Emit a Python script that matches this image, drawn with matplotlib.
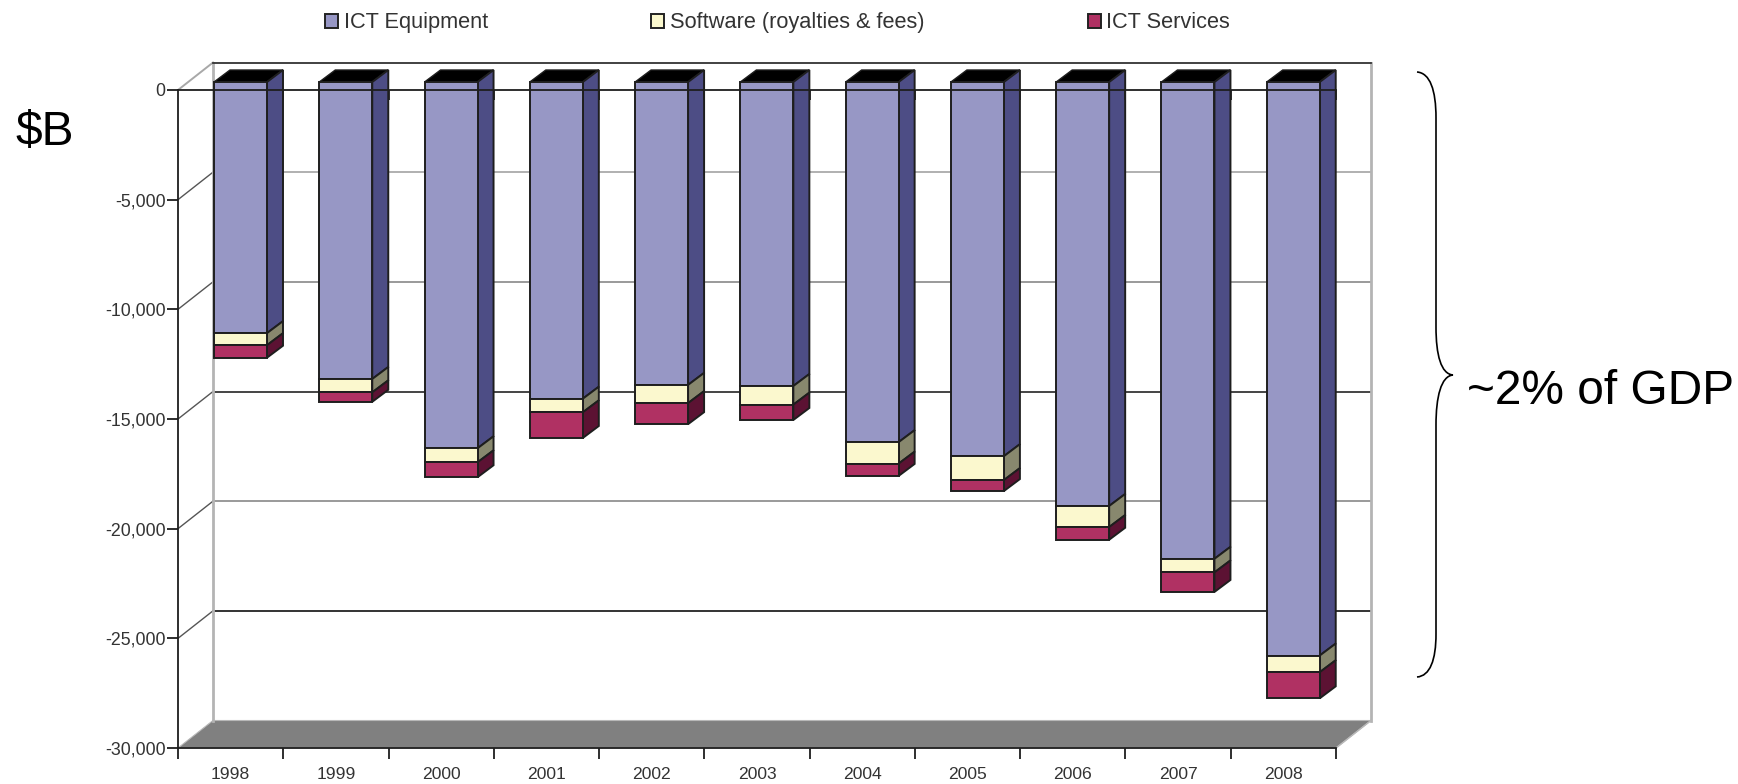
import numpy as np
import matplotlib
matplotlib.use('Agg')
import matplotlib.pyplot as plt
from matplotlib.patches import Polygon, Rectangle, PathPatch
from matplotlib.path import Path

plt.rcParams['font.family'] = ['Liberation Sans', 'DejaVu Sans']

# data ($B)
years = ['1998', '1999', '2000', '2001', '2002', '2003', '2004', '2005', '2006', '2007', '2008']
ict_equipment = [-11450, -13540, -16700, -14440, -13810, -13860, -16420, -17060, -19330, -21740, -26150]
software = [-550, -610, -640, -620, -830, -850, -980, -1090, -960, -620, -760]
ict_services = [-570, -430, -680, -1170, -960, -700, -560, -500, -580, -890, -1190]
series_names = ['ICT Equipment', 'Software (royalties & fees)', 'ICT Services']
yticks = [0, -5000, -10000, -15000, -20000, -25000, -30000]
ytick_labels = ['0', '-5,000', '-10,000', '-15,000', '-20,000', '-25,000', '-30,000']

# colours
front = ['#9797C5', '#FBF8CE', '#B03163']
side = ['#4D4D85', '#88886E', '#5C1233']
grid_colors = ['#B0B0B0', '#9A9A9A', '#444444', '#9A9A9A', '#333333']
edge = '#1E1E1E'
text_col = '#333333'

W, H = 1738, 784
fig = plt.figure(figsize=(W / 100, H / 100), dpi=100, facecolor='white')

# front plane of the chart box, in pixels
left, right, top, bottom = 178, 1336, 90, 748
ax = fig.add_axes([left / W, 1 - bottom / H, (right - left) / W, (bottom - top) / H])
ax.set_xlim(0, 11)
ax.set_ylim(-30000, 0)
ax.patch.set_visible(False)

# pixel -> data sizes
px = 11 / (right - left)
py = 30000 / (bottom - top)

wall_dx, wall_dy = 35 * px, 27.5 * py
bar_dx, bar_dy = 16 * px, 12 * py
bar_shift_x, bar_shift_y = 36 * px, 8 * py
bar_w = 53 * px

# floor
ax.add_patch(Polygon([(0, -30000), (wall_dx, -30000 + wall_dy), (11 + wall_dx, -30000 + wall_dy), (11, -30000)],
                     fc='#808080', ec='#B8B8B8', lw=0.8, zorder=1, clip_on=False))

# back wall and grid
for y, c in zip(yticks[1:-1], grid_colors):
    ax.plot([wall_dx, 11 + wall_dx], [y + wall_dy, y + wall_dy], color=c, lw=1.4, zorder=1, clip_on=False)
    ax.plot([0, wall_dx], [y, y + wall_dy], color='#555555', lw=1, zorder=1, clip_on=False)
ax.plot([0, wall_dx], [0, wall_dy], color='#A8A8A8', lw=1.4, zorder=1, clip_on=False)
ax.plot([wall_dx, wall_dx], [-30000 + wall_dy, wall_dy], color='#B4B4B4', lw=2, zorder=1, clip_on=False)
ax.plot([11 + wall_dx, 11 + wall_dx], [-30000 + wall_dy, wall_dy], color='#B4B4B4', lw=2, zorder=1, clip_on=False)
ax.plot([11, 11 + wall_dx], [-30000, -30000 + wall_dy], color='#B8B8B8', lw=1, zorder=1, clip_on=False)
ax.plot([wall_dx, 11 + wall_dx], [wall_dy, wall_dy], color='#333333', lw=1.3, zorder=1, clip_on=False)

# bars
stack = np.array([ict_equipment, software, ict_services], dtype=float)
ends = np.cumsum(stack, axis=0)
for i in range(len(years)):
    x0 = i + bar_shift_x
    x1 = x0 + bar_w
    y_start = bar_shift_y
    # black top face
    ax.add_patch(Polygon([(x0, y_start), (x0 + bar_dx, y_start + bar_dy), (x1 + bar_dx, y_start + bar_dy), (x1, y_start)],
                         fc='black', ec=edge, lw=1, zorder=3, clip_on=False))
    for s in range(3):
        y_end = bar_shift_y + ends[s, i]
        ax.add_patch(Polygon([(x1, y_start), (x1 + bar_dx, y_start + bar_dy), (x1 + bar_dx, y_end + bar_dy), (x1, y_end)],
                             fc=side[s], ec=edge, lw=1.4, zorder=3, clip_on=False))
        ax.add_patch(Rectangle((x0, y_end), bar_w, y_start - y_end, fc=front[s], ec=edge, lw=1.4, zorder=3, clip_on=False))
        y_start = y_end

# zero line with its little ticks, on top of the bars
ax.plot([0, 11], [0, 0], color='#1E1E1E', lw=1.3, zorder=4, clip_on=False)
ax.vlines(range(1, 12), -10 * py, 0, color='#1E1E1E', lw=1.3, zorder=4, clip_on=False)

# axes
for name in ['top', 'right']:
    ax.spines[name].set_visible(False)
for name in ['left', 'bottom']:
    ax.spines[name].set_linewidth(1.3)
    ax.spines[name].set_color('#1E1E1E')
    ax.spines[name].set_zorder(5)

ax.set_yticks(yticks)
ax.set_yticklabels(ytick_labels, fontsize=12.8, color=text_col)
ax.tick_params(axis='y', length=8, width=1.3, color='#1E1E1E', pad=1)
ax.set_xticks(range(12))
ax.set_xticklabels([])
ax.set_xticks(np.arange(len(years)) + 0.5, minor=True)
ax.set_xticklabels(years, minor=True, fontsize=12.6, color=text_col)
ax.tick_params(axis='x', which='major', length=8, width=1.3, color='#1E1E1E')
ax.tick_params(axis='x', which='minor', length=0, pad=14)

# overlay in picture pixels for legend, notes and brace
ov = fig.add_axes([0, 0, 1, 1], zorder=10)
ov.set_xlim(0, W)
ov.set_ylim(H, 0)
ov.axis('off')

swatch_x = [325, 651, 1088]
label_x = [344, 670, 1106]
for name, c, sx, lx in zip(series_names, front, swatch_x, label_x):
    ov.add_patch(Rectangle((sx, 14), 13, 14, fc=c, ec='#222222', lw=1.4))
    ov.text(lx, 22, name, fontsize=15.7, color=text_col, va='center', ha='left')

ov.text(16, 132, '$B', fontsize=34.5, color='black', va='center', ha='left')
ov.text(1467, 391, '~2% of GDP', fontsize=34.5, color='black', va='center', ha='left')

verts = [(1417, 72), (1430, 73), (1436, 90), (1436, 118),
         (1436, 327),
         (1436, 355), (1441, 374), (1453, 375),
         (1441, 376), (1436, 397), (1436, 425),
         (1436, 634),
         (1436, 660), (1430, 676), (1417, 677)]
codes = [Path.MOVETO, Path.CURVE4, Path.CURVE4, Path.CURVE4,
         Path.LINETO,
         Path.CURVE4, Path.CURVE4, Path.CURVE4,
         Path.CURVE4, Path.CURVE4, Path.CURVE4,
         Path.LINETO,
         Path.CURVE4, Path.CURVE4, Path.CURVE4]
ov.add_patch(PathPatch(Path(verts, codes), fc='none', ec='black', lw=1.2))

fig.savefig('out.png', dpi=100)
